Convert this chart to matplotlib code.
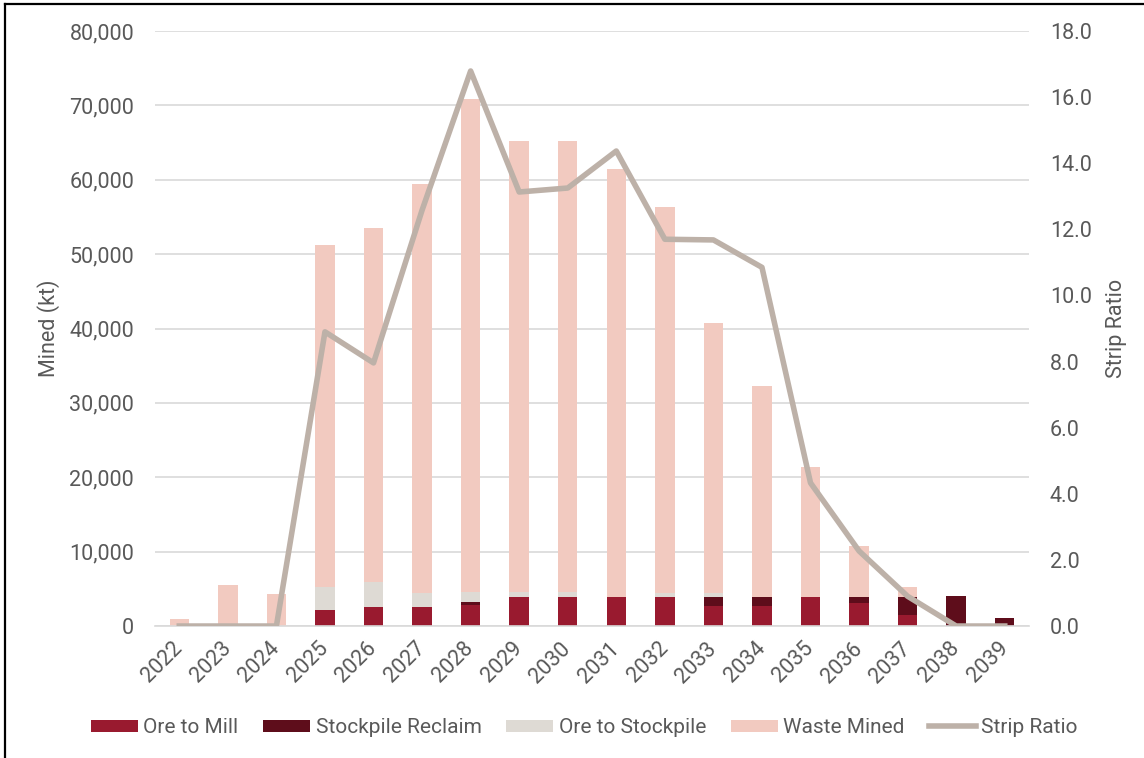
import numpy as np
import matplotlib.pyplot as plt
from matplotlib.lines import Line2D
from matplotlib.ticker import FuncFormatter, MultipleLocator

plt.rcParams['font.family'] = ['Roboto', 'DejaVu Sans']

# Colors
c_mill = "#991A2F"
c_reclaim = "#5E0D1B"
c_stock = "#DEDAD4"
c_waste = "#F2CAC0"
c_strip = "#BDB1A8"
c_text = "#595959"
c_grid = "#D9D9D9"

# Data (kt)
years = ["2022", "2023", "2024", "2025", "2026", "2027", "2028", "2029", "2030",
         "2031", "2032", "2033", "2034", "2035", "2036", "2037", "2038", "2039"]
ore_to_mill = [0, 0, 0, 2150, 2500, 2500, 2820, 3940, 3940,
               3940, 3850, 2650, 2650, 3940, 3050, 1440, 0, 0]
stockpile_reclaim = [0, 0, 0, 0, 0, 0, 360, 0, 0,
                     0, 0, 1290, 1290, 0, 890, 2500, 4030, 1075]
ore_to_stockpile = [0, 0, 0, 3100, 3450, 1930, 1350, 630, 630,
                    0, 630, 450, 0, 0, 0, 0, 0, 0]
total_mined = [1000, 5500, 4300, 51200, 53500, 59400, 70900, 65200, 65200,
               61500, 56400, 40800, 32300, 21400, 10700, 5300, 4030, 1075]
strip_ratio = [0.0, 0.0, 0.0, 8.9, 7.96, 12.58, 16.79, 13.13, 13.25,
               14.37, 11.7, 11.68, 10.85, 4.33, 2.27, 0.9, 0.0, 0.0]

mill = np.array(ore_to_mill)
reclaim = np.array(stockpile_reclaim)
stock = np.array(ore_to_stockpile)
waste = np.array(total_mined) - mill - reclaim - stock

x = np.arange(len(years))
w = 0.4
fs = 15.5

fig = plt.figure(figsize=(11.44, 7.58), dpi=100)
ax = fig.add_axes([0.1355, 0.1741, 0.764, 0.785])

ax.bar(x, mill, w, color=c_mill, label="Ore to Mill", zorder=2)
ax.bar(x, reclaim, w, bottom=mill, color=c_reclaim, label="Stockpile Reclaim", zorder=2)
ax.bar(x, stock, w, bottom=mill + reclaim, color=c_stock, label="Ore to Stockpile", zorder=2)
ax.bar(x, waste, w, bottom=mill + reclaim + stock, color=c_waste, label="Waste Mined", zorder=2)

ax.set_xlim(-0.5, len(years) - 0.5)
ax.set_ylim(0, 80000)
ax.yaxis.set_major_locator(MultipleLocator(10000))
ax.yaxis.set_major_formatter(FuncFormatter(lambda v, p: f"{int(v):,}"))
ax.grid(axis="y", color=c_grid, linewidth=1.2, zorder=0)
ax.set_axisbelow(True)
ax.set_xticks(x)
ax.set_xticklabels(years, rotation=45, ha="right", va="center", rotation_mode="anchor")
ax.tick_params(axis="both", length=0, labelsize=fs, labelcolor=c_text)
ax.tick_params(axis="x", pad=14)
ax.tick_params(axis="y", pad=15)
for s in ["top", "right", "left"]:
    ax.spines[s].set_visible(False)
ax.spines["bottom"].set_color(c_grid)
ax.spines["bottom"].set_linewidth(1.2)
ax.set_ylabel("Mined (kt)", fontsize=fs, color=c_text, labelpad=7)

# Strip ratio on secondary axis
ax2 = ax.twinx()
ax2.plot(x, strip_ratio, color=c_strip, linewidth=4, label="Strip Ratio", zorder=3)
ax2.set_ylim(0, 18)
ax2.yaxis.set_major_locator(MultipleLocator(2))
ax2.yaxis.set_major_formatter(FuncFormatter(lambda v, p: f"{v:.1f}"))
ax2.tick_params(axis="y", length=0, labelsize=fs, labelcolor=c_text, pad=15)
for s in ["top", "right", "left", "bottom"]:
    ax2.spines[s].set_visible(False)
ax2.set_ylabel("Strip Ratio", fontsize=fs, color=c_text, labelpad=10)

# Legend
h1, l1 = ax.get_legend_handles_labels()
h2, l2 = ax2.get_legend_handles_labels()
fig.legend(h1 + h2, l1 + l2, loc="center", bbox_to_anchor=(0.511, 0.04), ncol=5,
           frameon=False, fontsize=15, labelcolor=c_text, handlelength=2.25,
           handleheight=0.53, handletextpad=0.25, columnspacing=1.2)

# Frame lines (top and left)
fig.add_artist(Line2D([0.004, 1.0], [0.995, 0.995], transform=fig.transFigure, color="black", linewidth=1.6))
fig.add_artist(Line2D([0.004, 0.004], [0.0, 0.995], transform=fig.transFigure, color="black", linewidth=1.6))

plt.savefig("out.png", dpi=100)
